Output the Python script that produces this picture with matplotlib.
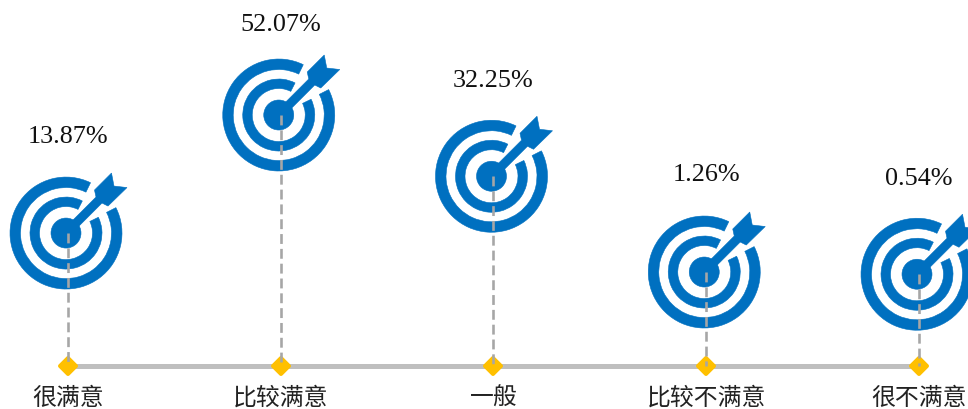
import matplotlib
matplotlib.use('Agg')
import matplotlib.pyplot as plt
from matplotlib.markers import MarkerStyle
from matplotlib.patches import Wedge, Circle, Polygon
from matplotlib.transforms import Affine2D, ScaledTranslation

plt.rcParams['font.family'] = ['Liberation Serif', 'Noto Sans CJK SC']

categories = ['很满意', '比较满意', '一般', '比较不满意', '很不满意']
values = [13.87, 52.07, 32.25, 1.26, 0.54]
value_labels = ['13.87%', '52.07%', '32.25%', '1.26%', '0.54%']
# small hand tweaks, px above the icon centre
label_up = [96, 90, 95, 97, 95]

BLUE = '#0070c0'
base = -29.1

fig = plt.figure(figsize=(9.68, 4.09), dpi=100)
ax = fig.add_axes([0, 0, 1, 1])
ax.set_xlim(-0.3196, 4.2303)
ax.set_ylim(-43.07, 89.29)
ax.axis('off')

px = 72 / fig.dpi
xs = list(range(len(values)))

ax.plot([xs[0], xs[-1]], [base, base], color='#bfbfbf', lw=5 * px, solid_capstyle='butt', zorder=1)


def draw_target(x, v):
    # icon shapes are in pixels around the centre, y up
    tr = Affine2D().translate(-2, 0) + ScaledTranslation(x, v, ax.transData)
    shapes = [
        Wedge((0, 0), 56, 64, 387, width=10.5),
        Wedge((0, 0), 36, 63, 386, width=9.5),
        Circle((0, 0), 15),
        Polygon([(-4, 2), (30, 36), (28.5, 43), (45.5, 60), (48, 47), (61, 45.5),
                 (42, 27), (36, 30), (2, -4)]),
    ]
    for s in shapes:
        s.set_transform(tr)
        s.set_facecolor(BLUE)
        s.set_edgecolor(BLUE)
        s.set_linewidth(0.4)
        s.set_zorder(2)
        ax.add_patch(s)


diamond = MarkerStyle('D', joinstyle='round')

for x, v, lab, up, cat in zip(xs, values, value_labels, label_up, categories):
    draw_target(x, v)
    ax.plot([x, x], [v, base], color='#a6a6a6', lw=2.6 * px, dashes=(3.8, 1.9), zorder=4)
    ax.plot([x], [base], marker=diamond, ms=11.5 * px, mfc='#ffc000', mec='#ffc000', mew=4 * px,
            ls='none', zorder=3)
    ax.annotate(lab, (x, v), xytext=(0, up * px), textcoords='offset points',
                ha='center', va='center', fontsize=18.8, color='#111111')
    ax.annotate(cat, (x, base), xytext=(0, -33 * px), textcoords='offset points',
                ha='center', va='center', fontsize=17.2, color='#222222')

fig.savefig('out.png', dpi=100)
